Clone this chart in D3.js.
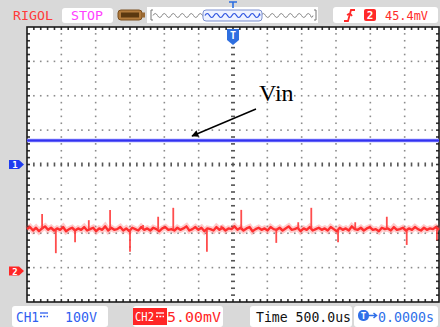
<!DOCTYPE html>
<html>
<head>
<meta charset="utf-8">
<script src="https://cdn.jsdelivr.net/npm/d3@7/dist/d3.min.js"></script>
<style>
  html, body { margin: 0; padding: 0; background: #d9d9d9; }
  svg { display: block; }
  .mono { font-family: "DejaVu Sans Mono", monospace; }
</style>
</head>
<body>
<svg id="scope" width="440" height="327"></svg>
<script>
// ---- Acquisition data ----
// Time base: 500 us/div, 12 divisions, trigger at centre (ms)
const timeSpan = [-3, 3];
// CH1 (Vin) level, volts (100 V/div, ground at centre)
const ch1Times = [-3, 3];
const ch1Values = [70, 70];
// CH2 ripple samples, mV (5.00 mV/div), evenly spaced over the record
const ch2Samples = [
  6.1,6.4,5.9,6.3,5.8,6.2,6.5,6.0,6.3,5.9,
  6.2,6.0,6.4,5.8,6.1,6.3,5.9,6.2,6.0,6.4,
  5.9,6.1,6.3,5.8,6.2,6.0,6.5,5.9,6.3,6.0,
  6.1,6.4,5.9,6.2,5.8,6.3,6.1,5.9,6.4,6.0,
  6.2,5.9,6.3,6.1,5.8,6.2,6.4,6.0,6.1,5.9,
  6.3,6.0,6.2,6.5,5.9,6.1,6.4,6.0,6.3,5.8,
  6.2,6.1,5.9,6.4,6.0,6.3,5.9,6.2,6.1,6.5,
  6.0,6.3,5.9,6.2,6.4,5.8,6.1,6.3,6.0,6.2,
  5.9,6.4,6.1,6.0,6.3,5.9,6.2,6.5,6.0,6.1,
  6.3,5.8,6.2,6.0,6.4,5.9,6.1,6.3,6.0,6.2,
  5.9,6.4,6.1,5.8,6.3,6.0,6.2,5.9,6.5,6.1,
  6.0,6.3,5.9,6.2,6.4,6.0,6.1,5.8,6.3,6.1,
  6.2,5.9,6.4,6.0,6.1,6.3,5.9,6.2,6.0,6.4,
  6.1,5.9,6.3,6.0,6.2,6.1,6.4,6.0
];
// CH2 resting level and switching spikes (ms, mV)
const ch2Baseline = 6.1;
const spikeTimes  = [-2.78,-2.58,-2.30,-2.10,-1.79,-1.50,-1.31,-1.09,-0.87,-0.38,-0.17,0.12,0.63,0.95,1.14,1.53,1.78,2.24,2.53,2.97];
const spikeValues = [8.3,2.6,4.2,7.4,8.9,2.8,6.7,7.9,9.2,2.8,6.6,8.9,4.1,7.1,9.2,4.2,7.1,7.9,3.8,4.5];

// Status texts
const topLabels = { brand: "RIGOL", state: "STOP", trigLevel: "45.4mV", trigSrc: "2" };
const bottomLabels = { ch1: "CH1", ch1Scale: "100V", ch2: "CH2", ch2Scale: "5.00mV", time: "Time 500.0us", offset: "0.0000s" };

// ---- Layout ----
const svg = d3.select("#scope");
const L = 27, R = 439, T = 27, B = 302;
const x = d3.scaleLinear().domain(timeSpan).range([L, R]);
const y1 = d3.scaleLinear().domain([-400, 400]).range([B, T]);
const y2 = d3.scaleLinear().domain([-4.5, 35.5]).range([B, T]);
const gx = d3.scaleLinear().domain([0, 12]).range([L, R]);
const gy = d3.scaleLinear().domain([0, 8]).range([T, B]);

svg.append("rect").attr("width", 440).attr("height", 327).attr("fill", "#d9d9d9");

// ---- Top status bar ----
const topBar = svg.append("g").attr("class", "mono");
topBar.append("text").attr("x", 13).attr("y", 20).attr("font-size", 13)
  .attr("fill", "#ff3b3b").attr("textLength", 40).attr("lengthAdjust", "spacingAndGlyphs")
  .text(topLabels.brand);
topBar.append("rect").attr("x", 62).attr("y", 8).attr("width", 51).attr("height", 15).attr("rx", 3).attr("fill", "#fff");
topBar.append("text").attr("x", 71).attr("y", 20).attr("font-size", 13)
  .attr("fill", "#ff40ff").attr("textLength", 32).attr("lengthAdjust", "spacingAndGlyphs")
  .text(topLabels.state);
// battery-style memory icon
topBar.append("rect").attr("x", 118).attr("y", 10).attr("width", 24).attr("height", 10).attr("rx", 3)
  .attr("fill", "#b07a3c").attr("stroke", "#7a4e1e");
topBar.append("rect").attr("x", 121).attr("y", 12.5).attr("width", 18).attr("height", 5).attr("fill", "#5a3810");
topBar.append("rect").attr("x", 142).attr("y", 12.5).attr("width", 3).attr("height", 5).attr("fill", "#9a6a34");
// memory overview strip
topBar.append("rect").attr("x", 147).attr("y", 7).attr("width", 171).attr("height", 16).attr("fill", "#fff");
function waveIcon(x0, x1, yc, amp, per) {
  const p = d3.path();
  p.moveTo(x0, yc);
  let xx = x0, up = true;
  while (xx < x1) {
    const nx = Math.min(xx + per / 2, x1);
    p.quadraticCurveTo((xx + nx) / 2, yc + (up ? -amp : amp) * 2, nx, yc);
    xx = nx; up = !up;
  }
  return p.toString();
}
topBar.append("path").attr("d", "M153,10 L151,10 L151,20 L153,20").attr("fill", "none").attr("stroke", "#777");
topBar.append("path").attr("d", "M314,10 L316,10 L316,20 L314,20").attr("fill", "none").attr("stroke", "#777");
topBar.append("path").attr("d", waveIcon(153, 313, 15.5, 2, 9)).attr("fill", "none").attr("stroke", "#888").attr("stroke-width", 1);
topBar.append("rect").attr("x", 203).attr("y", 10).attr("width", 59).attr("height", 11).attr("rx", 3)
  .attr("fill", "#eef2ff").attr("stroke", "#7a8fd0");
topBar.append("path").attr("d", waveIcon(205, 260, 15.5, 2, 9)).attr("fill", "none").attr("stroke", "#2c52e0").attr("stroke-width", 1.2);
topBar.append("path").attr("d", "M229,2 L237,2 M233,2 L233,8").attr("stroke", "#2c6ee0").attr("stroke-width", 1.6);
// trigger status box
topBar.append("rect").attr("x", 333).attr("y", 7).attr("width", 105).attr("height", 16).attr("rx", 3).attr("fill", "#fff");
topBar.append("path").attr("d", "M344,21 L348,21 L351,10 L355,10 M347,15 L350,13.5 L352,16")
  .attr("fill", "none").attr("stroke", "#ff2a2a").attr("stroke-width", 1.8);
topBar.append("rect").attr("x", 364).attr("y", 9).attr("width", 12).attr("height", 12).attr("rx", 2).attr("fill", "#ff2a2a");
topBar.append("text").attr("x", 370).attr("y", 19).attr("font-size", 11).attr("font-weight", "bold")
  .attr("text-anchor", "middle").attr("fill", "#fff").text(topLabels.trigSrc);
topBar.append("text").attr("x", 385).attr("y", 20).attr("font-size", 13)
  .attr("fill", "#ff2a2a").attr("textLength", 43).attr("lengthAdjust", "spacingAndGlyphs")
  .text(topLabels.trigLevel);

// ---- Screen and graticule ----
svg.append("rect").attr("x", L).attr("y", T).attr("width", R - L).attr("height", B - T).attr("fill", "#fff");
const grid = svg.append("g");
const dotC = "#8c8c8c";
for (let k = 1; k < 12; k++) {
  if (k === 6) continue;
  for (let j = 1; j < 40; j++) {
    grid.append("rect").attr("x", gx(k) - 0.8).attr("y", gy(j / 5) - 0.8)
      .attr("width", 1.6).attr("height", 1.6).attr("fill", dotC);
  }
}
for (let j = 1; j < 8; j++) {
  if (j === 4) continue;
  for (let i = 1; i < 60; i++) {
    if (i % 5 === 0) continue;
    grid.append("rect").attr("x", gx(i / 5) - 0.8).attr("y", gy(j) - 0.8)
      .attr("width", 1.6).attr("height", 1.6).attr("fill", dotC);
  }
}
// centre cross with minor ticks
for (let i = 1; i < 60; i++) {
  grid.append("rect").attr("x", gx(i / 5) - 0.8).attr("y", gy(4) - 2)
    .attr("width", 1.6).attr("height", 4).attr("fill", "#555");
}
for (let j = 1; j < 40; j++) {
  grid.append("rect").attr("x", gx(6) - 2).attr("y", gy(j / 5) - 0.8)
    .attr("width", 4).attr("height", 1.6).attr("fill", "#555");
}
// border ticks
for (let i = 1; i < 60; i++) {
  grid.append("rect").attr("x", gx(i / 5) - 0.8).attr("y", T).attr("width", 1.6).attr("height", 3).attr("fill", "#333");
  grid.append("rect").attr("x", gx(i / 5) - 0.8).attr("y", B - 3).attr("width", 1.6).attr("height", 3).attr("fill", "#333");
}
for (let j = 1; j < 40; j++) {
  grid.append("rect").attr("x", L).attr("y", gy(j / 5) - 0.8).attr("width", 3).attr("height", 1.6).attr("fill", "#333");
  grid.append("rect").attr("x", R - 3).attr("y", gy(j / 5) - 0.8).attr("width", 3).attr("height", 1.6).attr("fill", "#333");
}
svg.append("rect").attr("x", L).attr("y", T).attr("width", R - L).attr("height", B - T)
  .attr("fill", "none").attr("stroke", "#1a1a1a").attr("stroke-width", 1.6);

// ---- Traces ----
const ch2Points = ch2Samples.map((v, i) => [timeSpan[0] + i * (timeSpan[1] - timeSpan[0]) / (ch2Samples.length - 1), v]);
const line2 = d3.line().x(d => x(d[0])).y(d => y2(d[1]));
const traces = svg.append("g");
traces.append("path").attr("d", line2(ch2Points)).attr("fill", "none")
  .attr("stroke", "#ff5050").attr("stroke-width", 6).attr("stroke-opacity", 0.3);
traces.append("path").attr("d", line2(ch2Points)).attr("fill", "none")
  .attr("stroke", "#ff2e2e").attr("stroke-width", 2.4).attr("stroke-linejoin", "round");
// spikes drawn as thin vertical excursions from the resting level
traces.selectAll("line.spike").data(spikeTimes).join("line").attr("class", "spike")
  .attr("x1", d => x(d)).attr("x2", d => x(d))
  .attr("y1", y2(ch2Baseline)).attr("y2", (d, i) => y2(spikeValues[i]))
  .attr("stroke", "#ff3a3a").attr("stroke-width", 1.8).attr("stroke-opacity", 0.9);

const line1 = d3.line().x((d, i) => x(ch1Times[i])).y(d => y1(d));
traces.append("path").attr("d", line1(ch1Values)).attr("fill", "none")
  .attr("stroke", "#8c8cff").attr("stroke-width", 3.5);
traces.append("path").attr("d", line1(ch1Values)).attr("fill", "none")
  .attr("stroke", "#3232f0").attr("stroke-width", 2);

// trigger position marker
const tx = x(0);
svg.append("path").attr("d", `M${tx - 6},29 L${tx + 6},29 L${tx + 6},40 L${tx},45 L${tx - 6},40 Z`).attr("fill", "#2f6fe0");
svg.append("text").attr("class", "mono").attr("x", tx).attr("y", 39).attr("font-size", 10).attr("font-weight", "bold")
  .attr("text-anchor", "middle").attr("fill", "#fff").text("T");

// channel ground markers
function chMarker(yc, color, label) {
  svg.append("path").attr("d", `M9,${yc - 4.5} L19,${yc - 4.5} L24,${yc} L19,${yc + 4.5} L9,${yc + 4.5} Z`).attr("fill", color);
  svg.append("text").attr("class", "mono").attr("x", 15).attr("y", yc + 3.5).attr("font-size", 9).attr("font-weight", "bold")
    .attr("text-anchor", "middle").attr("fill", "#fff").text(label);
}
chMarker(y1(0), "#1e3cf0", "1");
chMarker(y2(0), "#ff2626", "2");

// ---- Annotation ----
svg.append("defs").append("marker").attr("id", "ah").attr("viewBox", "0 0 10 10")
  .attr("refX", 9).attr("refY", 5).attr("markerWidth", 9).attr("markerHeight", 7)
  .attr("markerUnits", "userSpaceOnUse").attr("orient", "auto")
  .append("path").attr("d", "M0,0 L10,5 L0,10 Z").attr("fill", "#000");
svg.append("line").attr("x1", 256).attr("y1", 109).attr("x2", 192).attr("y2", 136)
  .attr("stroke", "#000").attr("stroke-width", 1.4).attr("marker-end", "url(#ah)");
svg.append("text").attr("x", 259).attr("y", 101).attr("font-family", "'Liberation Serif', 'Times New Roman', serif")
  .attr("font-size", 24).attr("fill", "#000").text("Vin");

// ---- Bottom status bar ----
const bot = svg.append("g").attr("class", "mono");
function dcSymbol(x0, yc, color) {
  bot.append("line").attr("x1", x0).attr("x2", x0 + 8).attr("y1", yc - 2).attr("y2", yc - 2).attr("stroke", color).attr("stroke-width", 1.3);
  bot.append("line").attr("x1", x0).attr("x2", x0 + 8).attr("y1", yc + 1.5).attr("y2", yc + 1.5).attr("stroke", color)
    .attr("stroke-width", 1.3).attr("stroke-dasharray", "2,1.3");
}
bot.append("rect").attr("x", 12).attr("y", 306).attr("width", 96).attr("height", 21).attr("rx", 3).attr("fill", "#fff");
bot.append("text").attr("x", 16).attr("y", 321.5).attr("font-size", 14).attr("fill", "#2f5ff0")
  .attr("textLength", 23).attr("lengthAdjust", "spacingAndGlyphs").text(bottomLabels.ch1);
dcSymbol(40, 315, "#2f5ff0");
bot.append("text").attr("x", 65).attr("y", 321.5).attr("font-size", 14).attr("fill", "#2f5ff0")
  .attr("textLength", 32).attr("lengthAdjust", "spacingAndGlyphs").text(bottomLabels.ch1Scale);

bot.append("rect").attr("x", 133).attr("y", 306).attr("width", 90).attr("height", 21).attr("rx", 3).attr("fill", "#fff");
bot.append("rect").attr("x", 133).attr("y", 308).attr("width", 34).attr("height", 17).attr("fill", "#ff2626");
bot.append("text").attr("x", 135).attr("y", 321).attr("font-size", 13).attr("fill", "#fff")
  .attr("textLength", 19).attr("lengthAdjust", "spacingAndGlyphs").text(bottomLabels.ch2);
dcSymbol(156, 315, "#fff");
bot.append("text").attr("x", 167).attr("y", 321.5).attr("font-size", 14).attr("fill", "#ff2626")
  .attr("textLength", 54).attr("lengthAdjust", "spacingAndGlyphs").text(bottomLabels.ch2Scale);

bot.append("rect").attr("x", 250).attr("y", 306).attr("width", 102).attr("height", 21).attr("rx", 3).attr("fill", "#fff");
bot.append("text").attr("x", 256).attr("y", 321.5).attr("font-size", 14).attr("fill", "#111")
  .attr("textLength", 95).attr("lengthAdjust", "spacingAndGlyphs").text(bottomLabels.time);

bot.append("rect").attr("x", 354).attr("y", 306).attr("width", 84).attr("height", 21).attr("rx", 3).attr("fill", "#fff");
bot.append("rect").attr("x", 358).attr("y", 310).attr("width", 11).attr("height", 11).attr("rx", 5).attr("fill", "#2f6fe8");
bot.append("text").attr("x", 363.5).attr("y", 319).attr("font-size", 9).attr("font-weight", "bold")
  .attr("text-anchor", "middle").attr("fill", "#fff").text("T");
bot.append("path").attr("d", "M369,315.5 L376,315.5 M373.5,313 L376.5,315.5 L373.5,318").attr("fill", "none")
  .attr("stroke", "#2f6fe8").attr("stroke-width", 1.5);
bot.append("text").attr("x", 378).attr("y", 321.5).attr("font-size", 14).attr("fill", "#2f6fe8")
  .attr("textLength", 56).attr("lengthAdjust", "spacingAndGlyphs").text(bottomLabels.offset);
</script>
</body>
</html>
